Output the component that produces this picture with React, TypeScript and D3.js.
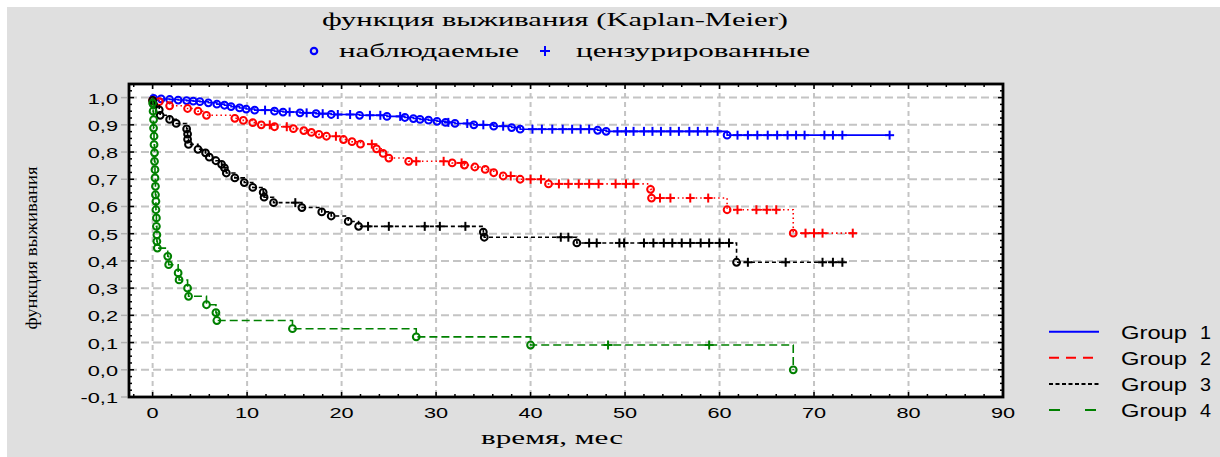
import React from "react";
import * as d3 from "d3";

// time (months) and survival after each observed event
const g1Events: [number, number][] = [
  [0.1, 0.997], [0.9, 0.995], [1.8, 0.993], [2.7, 0.991], [3.6, 0.989], [4.3, 0.987], [5.0, 0.985],
  [5.9, 0.981], [6.8, 0.976], [7.6, 0.972], [8.3, 0.967], [9.2, 0.962], [9.9, 0.958], [10.8, 0.954],
  [12.9, 0.950], [13.8, 0.947], [15.6, 0.944], [17.3, 0.941], [18.9, 0.938], [21.9, 0.935], [24.8, 0.931],
  [26.7, 0.927], [27.6, 0.923], [28.3, 0.920], [29.2, 0.917], [30.1, 0.913], [31.0, 0.909], [32.0, 0.905],
  [34.0, 0.900], [36.1, 0.895], [38.0, 0.890], [38.9, 0.884], [47.1, 0.880], [48.0, 0.876], [60.8, 0.862],
];
const g1Censored = [
  11.9, 14.5, 16.3, 18.0, 19.6, 20.9, 23.0, 24.1, 26.2, 31.3, 33.3, 35.0, 37.1, 40.2, 41.2, 42.3, 43.4,
  44.4, 45.3, 46.2, 49.2, 50.1, 50.9, 52.0, 52.9, 53.8, 54.8, 55.7, 56.8, 57.7, 58.7, 59.8, 61.9, 63.0,
  64.0, 65.1, 66.1, 67.2, 68.1, 69.0, 71.1, 72.0, 73.0, 78.0,
];

const g2Events: [number, number][] = [
  [0, 0.99], [0.7, 0.985], [1.8, 0.97], [3.7, 0.96], [4.8, 0.95], [5.7, 0.935], [8.7, 0.924], [9.6, 0.916],
  [10.6, 0.908], [11.5, 0.90], [12.9, 0.893], [14.9, 0.886], [16.0, 0.879], [16.8, 0.872], [17.6, 0.865],
  [18.4, 0.858], [20.2, 0.846], [21.1, 0.838], [22.0, 0.829], [23.7, 0.812], [24.4, 0.795], [25.0, 0.778],
  [27.1, 0.766], [31.7, 0.760], [33.0, 0.752], [34.1, 0.745], [35.2, 0.736], [36.1, 0.724], [37.1, 0.712],
  [38.9, 0.700], [41.9, 0.683], [52.7, 0.663], [52.8, 0.631], [60.8, 0.588], [67.8, 0.502],
];
const g2Censored = [
  12.4, 14.2, 19.4, 23.2, 27.9, 30.8, 32.7, 37.9, 40.0, 41.1, 43.0, 44.0, 45.1, 46.2, 47.2, 49.0, 50.1,
  50.9, 53.7, 54.8, 56.9, 58.8, 61.9, 63.9, 65.0, 66.0, 69.1, 70.0, 70.9, 74.1,
];

const g3Events: [number, number][] = [
  [0, 0.99], [0.1, 0.975], [0.7, 0.955], [0.8, 0.935], [1.8, 0.92], [2.5, 0.905], [3.6, 0.885], [3.7, 0.866],
  [3.7, 0.847], [3.8, 0.828], [4.8, 0.81], [5.6, 0.797], [6.0, 0.781], [6.7, 0.768], [7.3, 0.755], [7.6, 0.742],
  [7.8, 0.723], [8.7, 0.705], [9.7, 0.688], [10.6, 0.670], [11.7, 0.652], [11.8, 0.634], [12.8, 0.614],
  [15.8, 0.596], [17.9, 0.580], [18.9, 0.565], [20.7, 0.545], [21.8, 0.527], [35.0, 0.506], [35.1, 0.487],
  [44.9, 0.466], [61.8, 0.395],
];
const g3Censored = [
  15.1, 22.8, 25.0, 28.8, 30.4, 33.1, 43.2, 44.0, 46.2, 47.0, 49.4, 49.9, 52.0, 53.0, 54.1, 55.0, 56.0,
  56.9, 58.0, 58.9, 60.0, 61.0, 63.0, 67.0, 70.9, 72.0, 73.0,
];

const g4Events: [number, number][] = [
  [0.0, 0.98], [0.05, 0.95], [0.1, 0.919], [0.1, 0.888], [0.15, 0.858], [0.15, 0.827], [0.2, 0.797],
  [0.2, 0.766], [0.25, 0.735], [0.25, 0.705], [0.3, 0.674], [0.3, 0.643], [0.35, 0.619], [0.35, 0.588],
  [0.4, 0.558], [0.4, 0.527], [0.45, 0.496], [0.45, 0.472], [0.5, 0.447], [1.6, 0.417], [1.7, 0.386],
  [2.7, 0.356], [2.8, 0.33], [3.7, 0.30], [3.8, 0.27], [5.7, 0.239], [6.7, 0.21], [6.8, 0.181],
  [14.8, 0.151], [27.9, 0.121], [40.0, 0.091], [67.8, 0.0],
];
const g4Censored = [48.2, 58.9];

const groupNames = ["Group 1", "Group 2", "Group 3", "Group 4"];
const xTicks = [0, 10, 20, 30, 40, 50, 60, 70, 80, 90];
const yTicks = [-0.1, 0, 0.1, 0.2, 0.3, 0.4, 0.5, 0.6, 0.7, 0.8, 0.9, 1.0];
const yTickLabels = ["-0,1", "0,0", "0,1", "0,2", "0,3", "0,4", "0,5", "0,6", "0,7", "0,8", "0,9", "1,0"];

const series = [
  { events: g1Events, censored: g1Censored, color: "#0000ff", dash: "none", legendDash: "none" },
  { events: g2Events, censored: g2Censored, color: "#ff0000", dash: "1.5,3", legendDash: "10,7" },
  { events: g3Events, censored: g3Censored, color: "#000000", dash: "4,3", legendDash: "4,2.5" },
  { events: g4Events, censored: g4Censored, color: "#008000", dash: "8,4", legendDash: "11,25" },
];

const W = 1220;
const H = 457;
const x = d3.scaleLinear().domain([-2.5, 90]).range([129, 1003]);
const y = d3.scaleLinear().domain([-0.1, 1.05]).range([397, 84]);
const serif = "Liberation Serif, Times New Roman";
const sans = "Liberation Sans, Arial";

const survAt = (events: [number, number][], t: number) => {
  let s = 1;
  for (const [et, es] of events) if (et <= t) s = es;
  return s;
};

const SText = ({ x, y, sx = 1.45, size = 15, anchor = "middle", family = sans, children }: any) => (
  <text
    transform={`translate(${x},${y}) scale(${sx},1)`}
    textAnchor={anchor}
    fontSize={size}
    fontFamily={family}
    fill="#000"
  >
    {children}
  </text>
);

const Plus = ({ cx, cy, color, r = 4.5 }: any) => (
  <g stroke={color} strokeWidth={2}>
    <line x1={cx - r} x2={cx + r} y1={cy} y2={cy} />
    <line x1={cx} x2={cx} y1={cy - r} y2={cy + r} />
  </g>
);

export default function App() {
  const line = d3
    .line<[number, number]>()
    .x((d) => x(d[0]))
    .y((d) => y(d[1]))
    .curve(d3.curveStepAfter);

  const xMinor = d3.range(-2, 90.01, 2);
  const yMinor = d3.range(-0.1, 1.051, 0.025);
  const [x0, x1] = x.range();
  const [y0, y1] = y.range();

  return (
    <div style={{ position: "absolute", left: 0, top: 0 }}>
      <svg width={W} height={H} style={{ display: "block" }}>
        <rect x={0} y={0} width={W} height={H} fill="#fff" />
        <rect x={7} y={7} width={W - 7} height={H - 7} fill="#dfdfdf" />
        <rect x={x0} y={y1} width={x1 - x0} height={y0 - y1} fill="#fff" />

        {/* grid */}
        {xTicks.map((t) => (
          <line key={"gx" + t} x1={x(t)} x2={x(t)} y1={y1} y2={y0} stroke="#c4c4c4" strokeWidth={2} strokeDasharray="5,4" />
        ))}
        {yTicks.map((t) => (
          <line key={"gy" + t} x1={x0} x2={x1} y1={y(t)} y2={y(t)} stroke="#c4c4c4" strokeWidth={2} strokeDasharray="8,4" />
        ))}

        {/* curves */}
        {series.map((s, i) => {
          const last = s.events[s.events.length - 1];
          const end = Math.max(last[0], d3.max(s.censored) ?? 0);
          const pts: [number, number][] = [[0, 1], ...s.events, [end, last[1]]];
          return (
            <g key={"s" + i}>
              <path d={line(pts) ?? ""} fill="none" stroke={s.color} strokeWidth={1.6} strokeDasharray={s.dash} />
              {s.censored.map((t, j) => (
                <Plus key={j} cx={x(t)} cy={y(survAt(s.events, t))} color={s.color} />
              ))}
              {s.events.map((e, j) => (
                <circle key={"c" + j} cx={x(e[0])} cy={y(e[1])} r={3.4} fill="none" stroke={s.color} strokeWidth={2} />
              ))}
            </g>
          );
        })}

        {/* frame ticks */}
        {xMinor.map((t) => {
          const major = Math.abs(t % 10) < 1e-6;
          const l = major ? 5 : 3;
          return (
            <g key={"mx" + t} stroke="#000" strokeWidth={1.5}>
              <line x1={x(t)} x2={x(t)} y1={y1} y2={y1 + l} />
              <line x1={x(t)} x2={x(t)} y1={y0} y2={y0 - l} />
            </g>
          );
        })}
        {yMinor.map((t, k) => {
          const major = k % 4 === 0;
          const l = major ? 5 : 3;
          return (
            <g key={"my" + k} stroke="#000" strokeWidth={1.5}>
              <line x1={x0} x2={x0 + l} y1={y(t)} y2={y(t)} />
              <line x1={x1} x2={x1 - l} y1={y(t)} y2={y(t)} />
            </g>
          );
        })}
        {yTicks.map((t) => (
          <line key={"oy" + t} x1={121} x2={127} y1={y(t)} y2={y(t)} stroke="#b0b0b0" strokeWidth={1.5} />
        ))}
        <rect x={x0} y={y1} width={x1 - x0} height={y0 - y1} fill="none" stroke="#000" strokeWidth={2.8} />

        {/* tick labels */}
        {xTicks.map((t) => (
          <SText key={"tx" + t} x={x(t)} y={418}>{t}</SText>
        ))}
        {yTicks.map((t, i) => (
          <SText key={"ty" + t} x={118} y={y(t) + 6} anchor="end">{yTickLabels[i]}</SText>
        ))}

        {/* titles */}
        <text x={322} y={26} fontSize={19} fontFamily={serif} textLength={466} lengthAdjust="spacingAndGlyphs">
          функция выживания (Kaplan-Meier)
        </text>
        <circle cx={314} cy={51} r={3.2} fill="none" stroke="#0000ff" strokeWidth={2.2} />
        <text x={339} y={57} fontSize={19} fontFamily={serif} textLength={180} lengthAdjust="spacingAndGlyphs">
          наблюдаемые
        </text>
        <Plus cx={545} cy={51} color="#0000ff" r={5} />
        <text x={576} y={57} fontSize={19} fontFamily={serif} textLength={234} lengthAdjust="spacingAndGlyphs">
          цензурированные
        </text>
        <text
          transform="translate(37,248) rotate(-90)"
          textAnchor="middle"
          fontSize={16}
          fontFamily={serif}
          textLength={163}
          lengthAdjust="spacingAndGlyphs"
        >
          функция выживания
        </text>
        <text x={481} y={444} fontSize={18} fontFamily={serif} textLength={142} lengthAdjust="spacingAndGlyphs">
          время,  мес
        </text>

        {/* legend */}
        {series.map((s, i) => {
          const ly = 331.7 + i * 26.1;
          return (
            <g key={"lg" + i}>
              <line x1={1049} x2={1099} y1={ly} y2={ly} stroke={s.color} strokeWidth={2} strokeDasharray={s.legendDash} />
              <text x={1121} y={ly + 7} fontSize={18} fontFamily={sans} textLength={66} lengthAdjust="spacingAndGlyphs">
                {groupNames[i].split(" ")[0]}
              </text>
              <text x={1200} y={ly + 7} fontSize={18} fontFamily={sans} textLength={11} lengthAdjust="spacingAndGlyphs">
                {groupNames[i].split(" ")[1]}
              </text>
            </g>
          );
        })}
      </svg>
    </div>
  );
}
